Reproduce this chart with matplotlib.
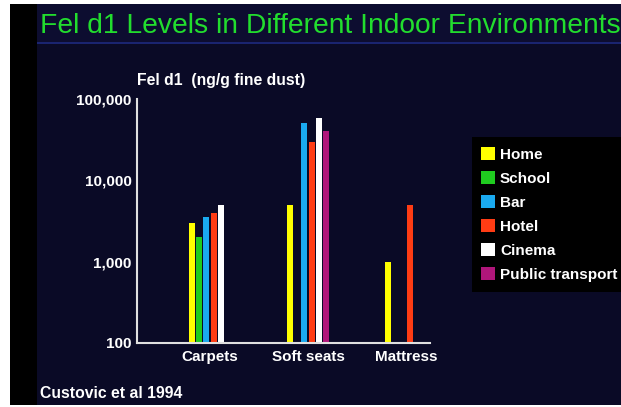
import numpy as np
import matplotlib
matplotlib.use("Agg")
import matplotlib.pyplot as plt
from matplotlib.patches import Rectangle, Patch

# Fel d1 (ng/g fine dust) per environment and location; nan = not measured
locations = ["Carpets", "Soft seats", "Mattress"]
environments = ["Home", "School", "Bar", "Hotel", "Cinema", "Public transport"]
home = [3000, 5000, 1000]
school = [2000, np.nan, np.nan]
bar = [3500, 50000, np.nan]
hotel = [4000, 30000, 5000]
cinema = [5000, 58000, np.nan]
public_transport = [np.nan, 40000, np.nan]
series = [home, school, bar, hotel, cinema, public_transport]
colors = ["#ffff00", "#1fcc1f", "#1aaaf0", "#ff3c14", "#ffffff", "#b0167a"]

W, H = 621, 407
fig = plt.figure(figsize=(W / 100, H / 100), dpi=100)
fig.patch.set_facecolor("white")

def px(x0, y0, w, h, color, z=-10):
    # rectangle given in pixel coords measured from the top-left corner
    fig.patches.append(Rectangle((x0 / W, 1 - (y0 + h) / H), w / W, h / H,
                                 transform=fig.transFigure, facecolor=color,
                                 edgecolor="none", zorder=z))

px(10, 4, W - 10, 401, "#000000")        # black slide frame
px(37, 4, W - 37, 401, "#0a0a26", -9)    # slide background
px(37, 4, W - 37, 39, "#0d0d30", -8)     # title band
px(37, 42, W - 37, 2, "#1a2470", -8)     # rule under title
px(472, 137, W - 472, 155, "#000000", -8)  # legend panel

fig.text(40 / W, 1 - 26 / H, "Fel d1 Levels in Different Indoor Environments",
         color="#22dd2e", fontsize=20.3, family="Liberation Sans",
         ha="left", va="center")

ax = fig.add_axes([137 / W, 1 - 343 / H, (430 - 137) / W, (343 - 99) / H])
ax.set_facecolor("none")
ax.set_yscale("log")

x = np.arange(len(locations))
slot, width = 0.0735, 0.06
for i, (vals, c, name) in enumerate(zip(series, colors, environments)):
    ax.bar(x + (i - 2.5) * slot, vals, width=width, color=c, label=name)

ax.set_ylim(100, 100000)
ax.set_xlim(-0.745, 2.245)
ax.set_yticks([100, 1000, 10000, 100000])
ax.set_yticklabels(["100", "1,000", "10,000", "100,000"])
ax.minorticks_off()
ax.set_xticks(x)
ax.set_xticklabels(locations)
ax.tick_params(length=0, colors="white", labelsize=11, pad=4)
ax.tick_params(axis="x", pad=5)
for lab in ax.get_xticklabels() + ax.get_yticklabels():
    lab.set_fontweight("bold")
    lab.set_family("Liberation Sans")
for s in ["top", "right"]:
    ax.spines[s].set_visible(False)
for s in ["left", "bottom"]:
    ax.spines[s].set_color("#e0e0e0")
    ax.spines[s].set_linewidth(1.5)

fig.text(137 / W, 1 - 80 / H, "Fel d1  (ng/g fine dust)", color="white",
         fontsize=11.3, fontweight="bold", family="Liberation Sans",
         ha="left", va="center")
fig.text(40 / W, 1 - 393 / H, "Custovic et al 1994", color="white",
         fontsize=11.3, fontweight="bold", family="Liberation Sans",
         ha="left", va="center")

handles = [Patch(facecolor=c, edgecolor="none") for c in colors]
fig.legend(handles, environments, loc="upper left",
           bbox_to_anchor=(481 / W, 1 - 147 / H), frameon=False,
           labelcolor="white", handlelength=0.9, handleheight=0.9,
           handletextpad=0.35, labelspacing=0.62, borderpad=0, borderaxespad=0,
           prop={"family": "Liberation Sans", "weight": "bold", "size": 11})

fig.savefig("out.png", dpi=100, facecolor=fig.get_facecolor())
